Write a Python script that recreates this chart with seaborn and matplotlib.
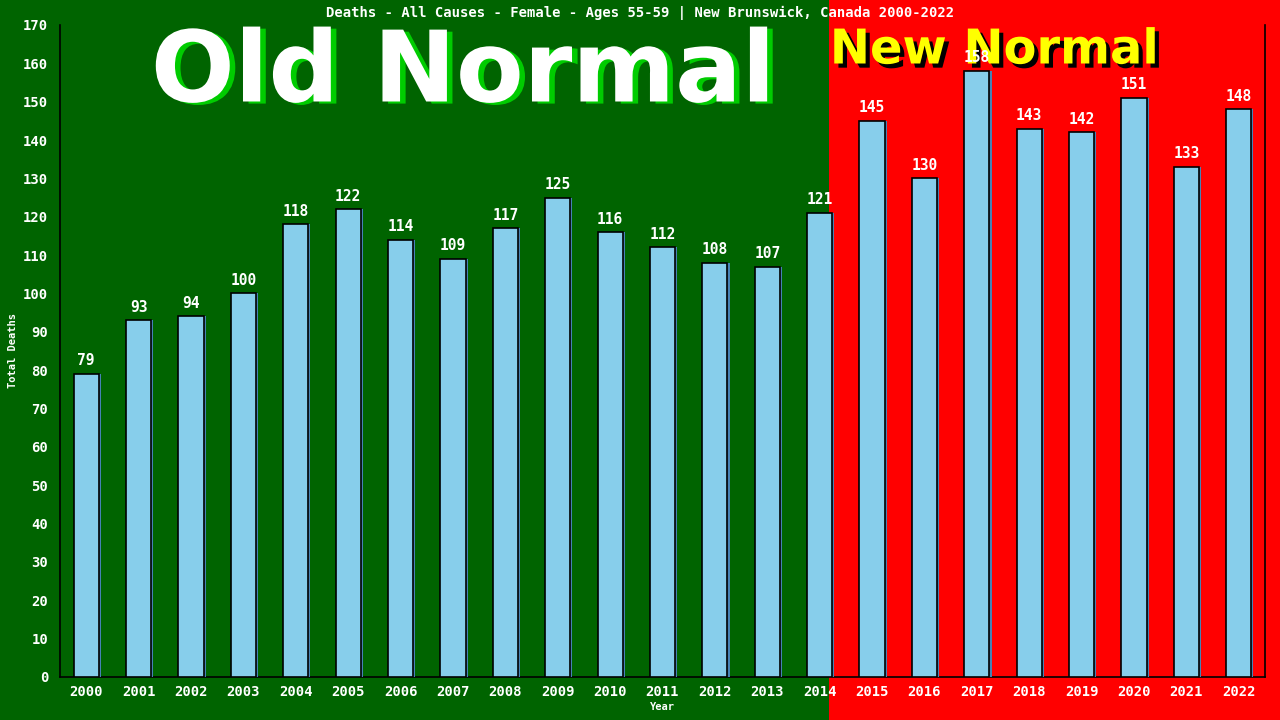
import matplotlib
matplotlib.use('Agg')
import matplotlib.pyplot as plt
import matplotlib.patheffects as pe
import seaborn as sns
import pandas as pd

# Data
years = [str(y) for y in range(2000, 2023)]
deaths = [79, 93, 94, 100, 118, 122, 114, 109, 117, 125, 116, 112,
          108, 107, 121, 145, 130, 158, 143, 142, 151, 133, 148]
y_ticks = list(range(0, 171, 10))

TITLE = 'Deaths - All Causes - Female - Ages 55-59 | New Brunswick, Canada 2000-2022'
MONO = 'DejaVu Sans Mono'
GREEN = '#006400'
RED = '#ff0000'
SPLIT = 829 / 1280  # where the old normal ends, in figure coords

sns.set_style('white')
df = pd.DataFrame({'Year': years, 'Deaths': deaths})

fig = plt.figure(figsize=(12.8, 7.2), dpi=100)
fig.patch.set_facecolor(GREEN)
fig.patches.append(plt.Rectangle((SPLIT, 0), 1 - SPLIT, 1, transform=fig.transFigure,
                                 facecolor=RED, edgecolor='none', zorder=-5))

ax = fig.add_axes([60 / 1280, 43 / 720, 1205 / 1280, 652 / 720])
ax.patch.set_alpha(0)

sns.barplot(data=df, x='Year', y='Deaths', color='#87ceeb', width=0.48,
            edgecolor='black', linewidth=1.2, saturation=1, ax=ax, zorder=3)
for bar in ax.patches:
    bar.set_path_effects([pe.SimplePatchShadow(offset=(1.5, 0), shadow_rgbFace='#4682b4', alpha=1),
                          pe.Normal()])

ax.bar_label(ax.containers[0], labels=[str(v) for v in deaths], padding=4,
             color='white', fontsize=10.5, family=MONO, fontweight='bold', zorder=4)

ax.set_xlim(-0.5, len(years) - 0.5)
ax.set_ylim(0, 170)
ax.set_yticks(y_ticks)
ax.tick_params(axis='both', colors='white', labelsize=10, length=5, color='black', width=1)
ax.tick_params(axis='x', length=0, pad=6)
for lab in ax.get_xticklabels() + ax.get_yticklabels():
    lab.set_family(MONO)
    lab.set_fontweight('bold')

for side in ['left', 'bottom', 'right']:
    ax.spines[side].set_color('black')
    ax.spines[side].set_linewidth(1.2)
ax.spines['top'].set_visible(False)

ax.set_xlabel('Year', color='white', fontsize=7.5, family=MONO, fontweight='bold', labelpad=2)
ax.set_ylabel('Total Deaths', color='white', fontsize=7.5, family=MONO, fontweight='bold', labelpad=4)

fig.text(0.5, 1 - 13 / 720, TITLE, ha='center', va='center', color='white',
         fontsize=10, family=MONO, fontweight='bold')

# Big banner texts, kept behind the axes so the value labels sit on top
fig.text(463 / 1280, 1 - 74 / 720, 'Old Normal', ha='center', va='center', color='white',
         fontsize=71, family='DejaVu Sans', fontweight='bold', zorder=-1,
         path_effects=[pe.withSimplePatchShadow(offset=(4, -1.5), shadow_rgbFace='#00cc00', alpha=1)])
fig.text(994 / 1280, 1 - 50 / 720, 'New Normal', ha='center', va='center', color='#ffff00',
         fontsize=34.5, family='DejaVu Sans', fontweight='bold', zorder=-1,
         path_effects=[pe.withSimplePatchShadow(offset=(3, -3), shadow_rgbFace='black', alpha=1)])

fig.savefig('out.png', dpi=100, facecolor=fig.get_facecolor())
